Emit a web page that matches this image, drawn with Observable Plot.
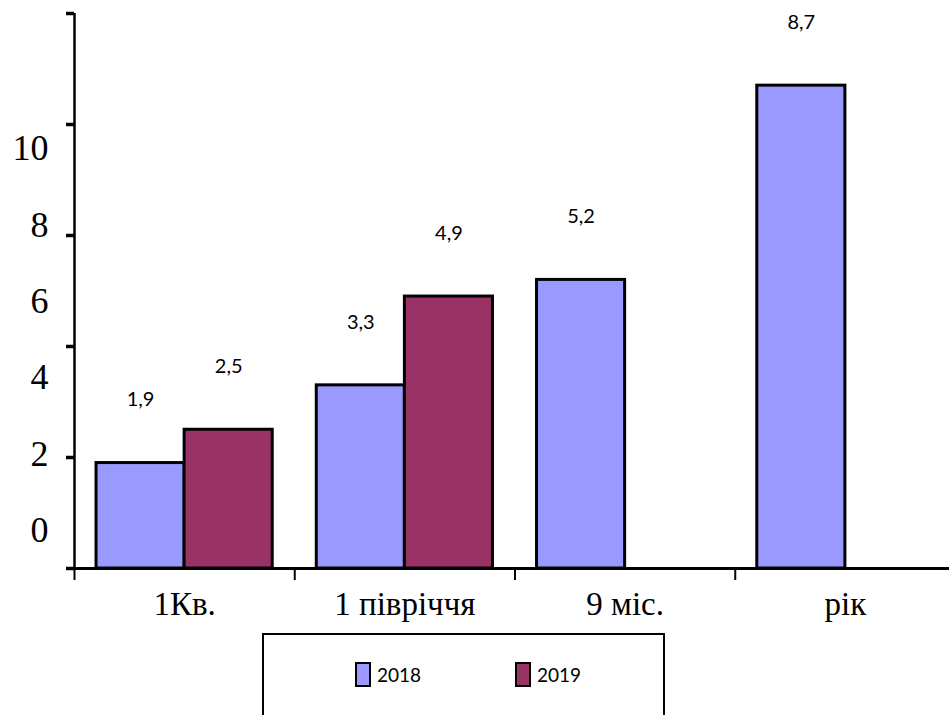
<!DOCTYPE html>
<html>
<head>
<meta charset="utf-8">
<script src="https://cdn.jsdelivr.net/npm/d3@7"></script>
<script src="https://cdn.jsdelivr.net/npm/@observablehq/plot@0.6"></script>
<style>
  body { margin: 0; background: #fff; }
  #chart svg { display: block; overflow: visible; }
  .legend {
    margin-left: 262px; margin-top: 1px; width: 399px; height: 120px;
    border: 2.5px solid #000; border-bottom: none; position: relative;
    font-family: Lato, "Noto Sans", sans-serif; font-size: 19px; color: #000;
  }
  .item { position: absolute; top: 27px; display: flex; align-items: center; }
  .sw { width: 12px; height: 21px; border: 2.5px solid #000; margin-right: 6px; }
</style>
</head>
<body>
<div id="chart"></div>
<script>
const categories = ["1Кв.", "1 півріччя", "9 міс.", "рік"];
const series = ["2018", "2019"];
const values2018 = [1.9, 3.3, 5.2, 8.7];
const values2019 = [2.5, 4.9, null, null];
const yTicks = [0, 2, 4, 6, 8, 10];
const colors = ["#9999ff", "#993366"];

const rows = [];
categories.forEach((c, i) => {
  [values2018, values2019].forEach((vals, s) => {
    if (vals[i] != null) rows.push({cat: c, i, s, series: series[s], value: vals[i]});
  });
});

// layout constants (fraction of a category band)
const groupStart = 0.1, barW = 0.4;
// the reference draws its y tick labels on a compressed spacing
const labelPos = v => 0.685 + 0.688 * v;

const serif = "'Liberation Serif', 'DejaVu Serif', serif";
const sans = "Lato, 'Noto Sans', sans-serif";

const chart = Plot.plot({
  width: 949,
  height: 632,
  marginLeft: 74,
  marginRight: 0,
  marginTop: 13,
  marginBottom: 64,
  x: {type: "linear", domain: [0, categories.length], range: [74, 955], label: null},
  y: {domain: [0, 10], range: [568, 13], label: null},
  color: {domain: series, range: colors},
  marks: [
    Plot.rectY(rows, {
      x1: d => d.i + groupStart + barW * d.s,
      x2: d => d.i + groupStart + barW * (d.s + 1),
      y1: 0, y2: "value",
      fill: "series", stroke: "#000", strokeWidth: 3
    }),
    Plot.ruleY([0], {stroke: "#000", strokeWidth: 3}),
    Plot.ruleX([0], {y1: 0, y2: 10, stroke: "#000", strokeWidth: 2.5}),
    Plot.axisY({ticks: yTicks, tickSize: 8, tickFormat: () => "", label: null, stroke: "#000", strokeWidth: 3.5}),
    Plot.axisX({ticks: d3.range(categories.length), tickSize: 12, tickFormat: () => "", label: null, stroke: "#000", strokeWidth: 2}),
    Plot.text(yTicks, {
      x: 0, y: v => labelPos(v), text: v => String(v),
      textAnchor: "end", dx: -26, fontSize: 36, fontFamily: serif, fill: "#000"
    }),
    Plot.text(categories, {
      x: (c, i) => i + 0.5, y: 0, text: c => c,
      dy: 36, fontSize: 33, fontFamily: serif, fill: "#000"
    }),
    Plot.text(rows, {
      x: d => d.i + groupStart + barW * (d.s + 0.5), y: "value",
      text: d => String(d.value).replace(".", ","),
      dy: -63, fontSize: 20, fontFamily: sans, fill: "#000"
    })
  ]
});
document.getElementById("chart").appendChild(chart);

const legend = document.createElement("div");
legend.className = "legend";
const offsets = [91, 251];
series.forEach((s, k) => {
  const it = document.createElement("div");
  it.className = "item";
  it.style.left = offsets[k] + "px";
  const sw = document.createElement("div");
  sw.className = "sw";
  sw.style.background = colors[k];
  const t = document.createElement("span");
  t.textContent = s;
  it.appendChild(sw); it.appendChild(t);
  legend.appendChild(it);
});
document.body.appendChild(legend);
</script>
</body>
</html>
